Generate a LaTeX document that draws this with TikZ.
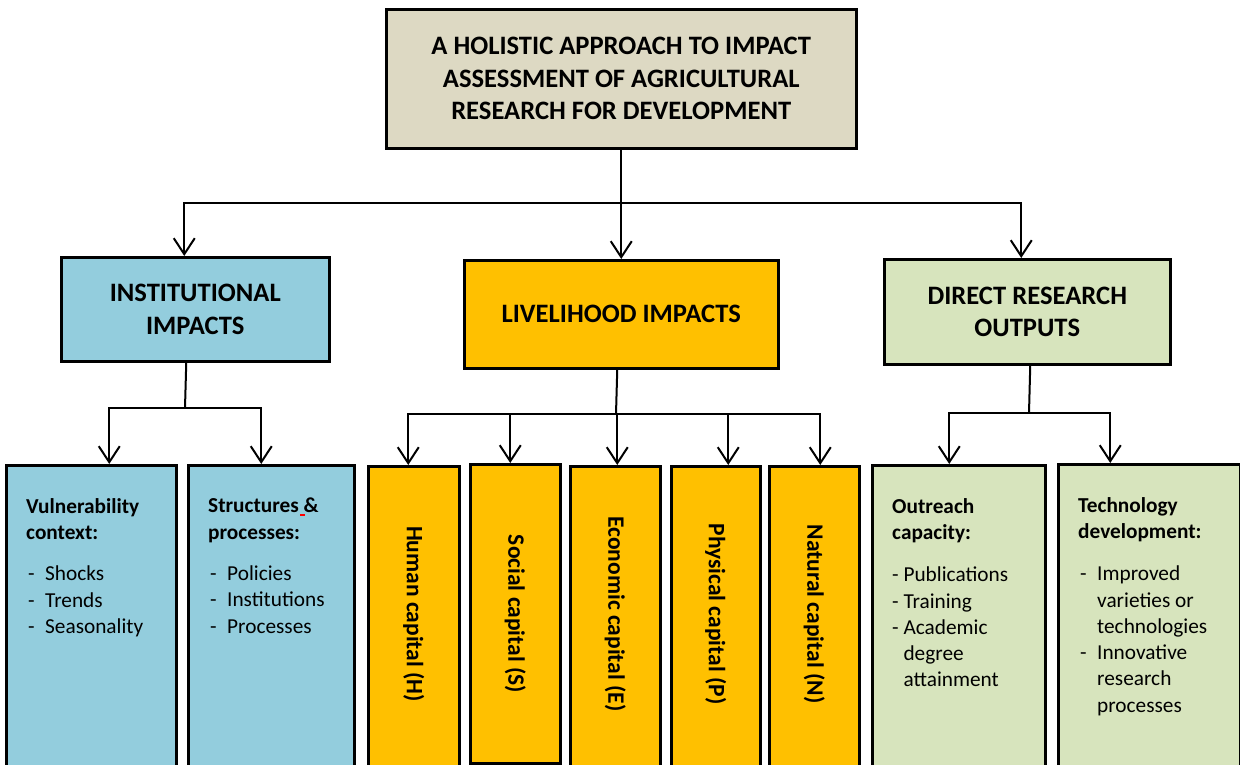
\documentclass[tikz,border=0pt]{standalone}
\usepackage{fontspec}
\setmainfont{Carlito}
\usetikzlibrary{arrows.meta}
\definecolor{titletan}{HTML}{DDD9C3}
\definecolor{instblue}{HTML}{93CDDD}
\definecolor{liveorange}{HTML}{FFC000}
\definecolor{outgreen}{HTML}{D7E4BD}
\newcommand{\dashline}[1]{\makebox[19pt][l]{\hspace{2pt}-}#1}
\newcommand{\contline}[1]{\makebox[19pt][l]{}#1}
\begin{document}
\begin{tikzpicture}[x=1pt, y=-1pt,
      box/.style={draw=black, line width=2.5pt, rectangle, inner sep=0pt, anchor=north west},
      headtxt/.style={font=\bfseries\fontsize{26.6}{32.5}\selectfont, align=center},
      listtxt/.style={font=\fontsize{21.3}{26.3}\selectfont, align=left, anchor=north west, inner sep=0pt},
      captxt/.style={font=\bfseries\fontsize{23.5}{28}\selectfont, rotate=-90, inner sep=0pt},
      plain/.style={draw, line width=2pt},
      link/.style={draw, line width=2pt, -{Straight Barb[length=16pt, width=21pt]}}
    ]
    \useasboundingbox (0,0) rectangle (1240,764);
    \fill[white] (0,0) rectangle (1240,764);

    % Title and the three impact groups
    \node[box, headtxt, fill=titletan, minimum width=470, minimum height=139] (title) at (385,8)
      {A HOLISTIC APPROACH TO IMPACT\\ASSESSMENT OF AGRICULTURAL\\RESEARCH FOR DEVELOPMENT};
    \node[box, headtxt, fill=instblue, minimum width=268, minimum height=104] (inst) at (60,256)
      {INSTITUTIONAL\\IMPACTS};
    \node[box, headtxt, fill=liveorange, minimum width=314, minimum height=108] (live) at (463,259)
      {LIVELIHOOD IMPACTS};
    \node[box, headtxt, fill=outgreen, minimum width=286, minimum height=105] (dro) at (883,258)
      {DIRECT RESEARCH\\OUTPUTS};

    \coordinate (topbar) at (620,203);
    \draw[link] (title.south) -- (live.north);
    \draw[link] (topbar) -| ([xshift=-11]inst.north);
    \draw[link] (topbar) -| ([xshift=-6]dro.north);

    % Institutional impacts
    \node[box, fill=instblue, minimum width=170, minimum height=310] (vul) at (5,464) {};
    \node[box, fill=instblue, minimum width=166, minimum height=310] (stru) at (187,464) {};
    \node[listtxt] (vultxt) at ([xshift=21, yshift=-34]vul.north west)
      {\textbf{Vulnerability}\\\textbf{context:}\\[15pt]\dashline{Shocks}\\\dashline{Trends}\\\dashline{Seasonality}};
    \node[listtxt] (strutxt) at ([xshift=21, yshift=-34]stru.north west)
      {\textbf{Structures \& }\\\textbf{processes:}\\[15pt]\dashline{Policies}\\\dashline{Institutions}\\\dashline{Processes}};
    \draw[red, line width=1.5pt] (300,515) -- (305,515);

    \coordinate (instbar) at (185,408);
    \draw[plain] ([xshift=-9]inst.south) -- (instbar);
    \draw[link] (instbar) -| ([xshift=18]vul.north);
    \draw[link] (instbar) -| ([xshift=-10]stru.north);

    % Livelihood capitals
    \coordinate (livebar) at (616,414);
    \draw[plain] ([xshift=-4]live.south) -- (livebar);
    \foreach \n/\xa/\ya/\w/\h/\dx/\t in {
        H/367/465/91/310/-5.5/Human capital (H),
        S/469/463/90/299/-5/Social capital (S),
        E/569/465/90/310/2/Economic capital (E),
        P/670/465/89/310/12.5/Physical capital (P),
        N/768/465/90/310/6/Natural capital (N)} {
      \node[box, fill=liveorange, minimum width=\w, minimum height=\h] (cap\n) at (\xa,\ya) {};
      \node[captxt] (txt\n) at (cap\n.north |- 0,614) {\t};
      \draw[link] (livebar) -| ([xshift=\dx]cap\n.north);
    }

    % Direct research outputs
    \node[box, fill=outgreen, minimum width=173, minimum height=310] (outr) at (871,464) {};
    \node[box, fill=outgreen, minimum width=182, minimum height=310] (tech) at (1057,463) {};
    \node[listtxt] (outrtxt) at ([xshift=21, yshift=-34]outr.north west)
      {\textbf{Outreach}\\\textbf{capacity:}\\[16pt]- Publications\\- Training\\- Academic\\\phantom{- }degree\\\phantom{- }attainment};
    \node[listtxt] (techtxt) at ([xshift=21, yshift=-34]tech.north west)
      {\textbf{Technology}\\\textbf{development:}\\[16pt]\dashline{Improved}\\\contline{varieties or}\\\contline{technologies}\\\dashline{Innovative}\\\contline{research}\\\contline{processes}};

    \coordinate (drobar) at (1029,413);
    \draw[plain] ([xshift=3]dro.south) -- (drobar);
    \draw[link] (drobar) -| ([xshift=-9.5]outr.north);
    \draw[link] (drobar) -| ([xshift=-39]tech.north);

\end{tikzpicture}
\end{document}
